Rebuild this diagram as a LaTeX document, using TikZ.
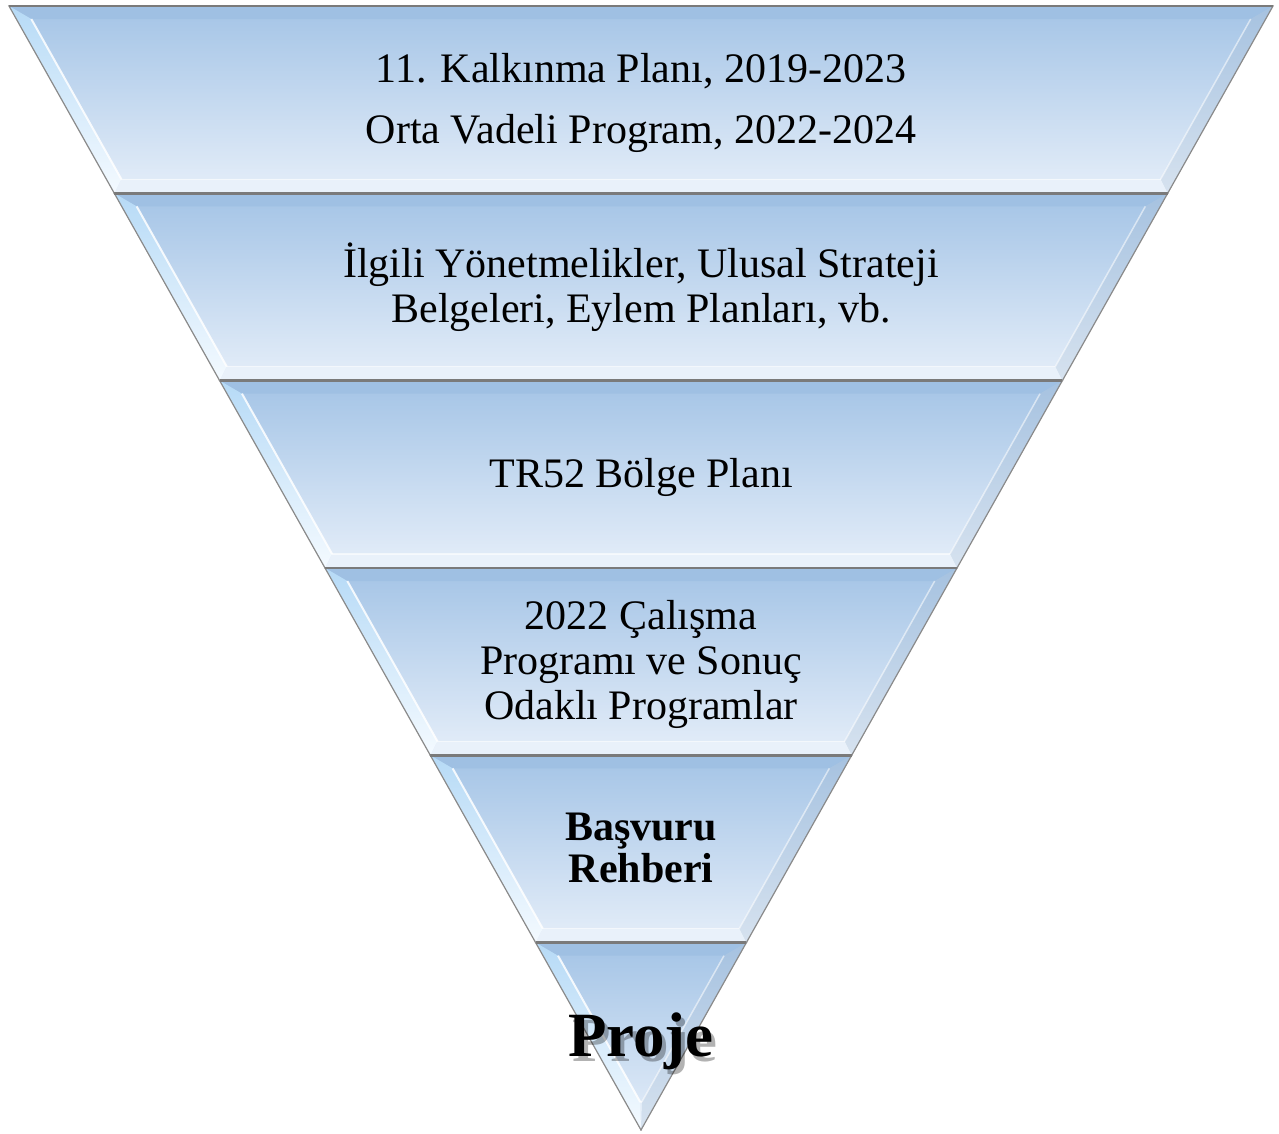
\documentclass[tikz,border=0pt]{standalone}
\usepackage{fontspec}
\setmainfont{Liberation Serif}
\definecolor{bandtop}{HTML}{A4C4E6}
\definecolor{bandbot}{HTML}{E5EEF9}
\definecolor{topbev}{HTML}{9FC0E3}
\definecolor{lefttop}{HTML}{B6DAF6}
\definecolor{leftbot}{HTML}{F4FAFF}
\definecolor{righttop}{HTML}{A6C2E0}
\definecolor{rightbot}{HTML}{D6E2EF}
\definecolor{botbev}{HTML}{E9F1FA}
\definecolor{edgegray}{HTML}{8A8A8A}
\definecolor{sepgray}{HTML}{7A7A7A}
\begin{document}
\begin{tikzpicture}[x=1pt,y=-1pt,
  txt/.style={font=\fontsize{42}{45}\selectfont, align=center, inner sep=0pt, anchor=base, text=black},
  boldtxt/.style={txt, font=\fontsize{42}{42}\selectfont\bfseries},
  bigtxt/.style={inner sep=0pt, anchor=base, font=\fontsize{63}{63}\selectfont\bfseries}]
\useasboundingbox (0,0) rectangle (1279,1133);
\foreach \i in {0,...,5}{
  \pgfmathsetmacro\yt{6+187.3333*\i}
  \pgfmathsetmacro\yb{\yt+187.3333}
  \pgfmathsetmacro\xlt{9+0.56228*(\yt-6)}
  \pgfmathsetmacro\xrt{1273-0.56228*(\yt-6)}
  \pgfmathsetmacro\xlb{9+0.56228*(\yb-6)}
  \pgfmathsetmacro\xrb{1273-0.56228*(\yb-6)}
  \pgfmathsetmacro\yti{\yt+13}
  \pgfmathsetmacro\ybi{min(\yb-14,1102)}
  \pgfmathsetmacro\xlti{9+0.56228*(\yti-6)+15}
  \pgfmathsetmacro\xrti{1273-0.56228*(\yti-6)-15}
  \pgfmathsetmacro\xlbi{9+0.56228*(\ybi-6)+15}
  \pgfmathsetmacro\xrbi{1273-0.56228*(\ybi-6)-15}
  % body
  \shade[top color=bandtop, bottom color=bandbot]
    (\xlt,\yt) -- (\xrt,\yt) -- (\xrb,\yb) -- (\xlb,\yb) -- cycle;
  % top bevel
  \fill[topbev] (\xlt,\yt) -- (\xrt,\yt) -- (\xrti,\yti) -- (\xlti,\yti) -- cycle;
  % left bevel
  \shade[top color=lefttop, bottom color=leftbot]
    (\xlt,\yt) -- (\xlti,\yti) -- (\xlbi,\ybi) -- (\xlb,\yb) -- cycle;
  % right bevel
  \shade[top color=righttop, bottom color=rightbot]
    (\xrt,\yt) -- (\xrti,\yti) -- (\xrbi,\ybi) -- (\xrb,\yb) -- cycle;
  % bottom bevel
  \fill[botbev] (\xlb,\yb) -- (\xlbi,\ybi) -- (\xrbi,\ybi) -- (\xrb,\yb) -- cycle;
  % highlights
  \draw[white, opacity=0.85, line width=2] (\xlti,\yti) -- (\xlbi,\ybi);
  \draw[white, opacity=0.55, line width=1.5] (\xrti,\yti) -- (\xrbi,\ybi);
  \draw[white, opacity=0.6, line width=1.5] (\xlbi,\ybi) -- (\xrbi,\ybi);
  % outline
  \draw[edgegray, line width=1.2, line join=miter]
    (\xlt,\yt) -- (\xrt,\yt) -- (\xrb,\yb) -- (\xlb,\yb) -- cycle;
  \draw[sepgray, line width=2.6] (\xlt,\yt) -- (\xrt,\yt);
}
\node[txt] (t1a) at (641,82) {11. Kalkınma Planı, 2019-2023};
\node[txt] (t1b) at (641,143) {Orta Vadeli Program, 2022-2024};
\node[txt] (t2) at (641,322) {İlgili Yönetmelikler, Ulusal Strateji\\Belgeleri, Eylem Planları, vb.};
\node[txt] (t3) at (641,487) {TR52 Bölge Planı};
\node[txt] (t4) at (641,719) {2022 Çalışma\\Programı ve Sonuç\\Odaklı Programlar};
\node[boldtxt] (t5) at (641,882) {Başvuru\\Rehberi};
\node[bigtxt, text=black, opacity=0.3] (t6s) at (645,1061) {Proje};
\node[bigtxt, text=black] (t6) at (641,1056) {Proje};
\end{tikzpicture}
\end{document}
